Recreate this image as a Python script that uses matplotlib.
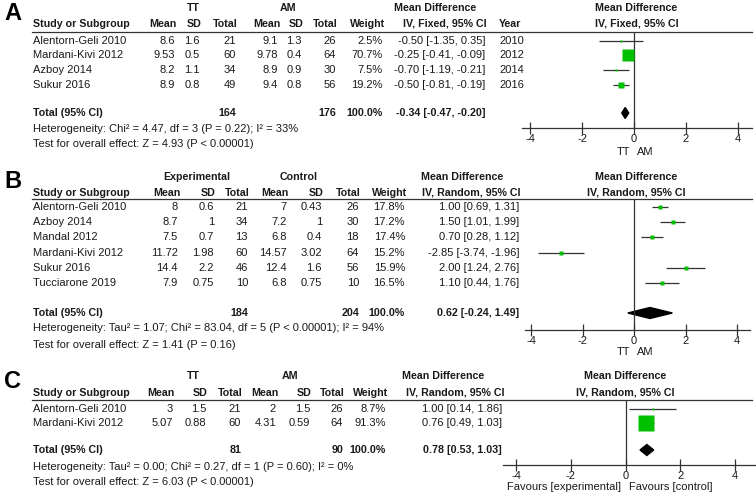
import numpy as np
import matplotlib
matplotlib.use('Agg')
import matplotlib.pyplot as plt
from matplotlib.patches import Polygon

plt.rcParams['font.family'] = ['Liberation Sans', 'DejaVu Sans']
plt.rcParams['axes.unicode_minus'] = False

W, H = 756, 496
GREEN = '#00c000'
INK = '#1a1a1a'
FS = 8
FSB = 7.7

# ---------------- data ----------------
# Panel A: TT vs AM, fixed effect
a_studies = ['Alentorn-Geli 2010', 'Mardani-Kivi 2012', 'Azboy 2014', 'Sukur 2016']
a_m1 = [8.6, 9.53, 8.2, 8.9]
a_sd1 = [1.6, 0.5, 1.1, 0.8]
a_n1 = [21, 60, 34, 49]
a_m2 = [9.1, 9.78, 8.9, 9.4]
a_sd2 = [1.3, 0.4, 0.9, 0.8]
a_n2 = [26, 64, 30, 56]
a_weight = [2.5, 70.7, 7.5, 19.2]
a_md = [-0.50, -0.25, -0.70, -0.50]
a_lo = [-1.35, -0.41, -1.19, -0.81]
a_hi = [0.35, -0.09, -0.21, -0.19]
a_year = [2010, 2012, 2014, 2016]
a_total = (164, 176, -0.34, -0.47, -0.20)
a_het = 'Heterogeneity: Chi² = 4.47, df = 3 (P = 0.22); I² = 33%'
a_test = 'Test for overall effect: Z = 4.93 (P < 0.00001)'

# Panel B: Experimental vs Control, random effects
b_studies = ['Alentorn-Geli 2010', 'Azboy 2014', 'Mandal 2012', 'Mardani-Kivi 2012',
             'Sukur 2016', 'Tucciarone 2019']
b_m1 = [8, 8.7, 7.5, 11.72, 14.4, 7.9]
b_sd1 = [0.6, 1, 0.7, 1.98, 2.2, 0.75]
b_n1 = [21, 34, 13, 60, 46, 10]
b_m2 = [7, 7.2, 6.8, 14.57, 12.4, 6.8]
b_sd2 = [0.43, 1, 0.4, 3.02, 1.6, 0.75]
b_n2 = [26, 30, 18, 64, 56, 10]
b_weight = [17.8, 17.2, 17.4, 15.2, 15.9, 16.5]
b_md = [1.00, 1.50, 0.70, -2.85, 2.00, 1.10]
b_lo = [0.69, 1.01, 0.28, -3.74, 1.24, 0.44]
b_hi = [1.31, 1.99, 1.12, -1.96, 2.76, 1.76]
b_total = (184, 204, 0.62, -0.24, 1.49)
b_het = 'Heterogeneity: Tau² = 1.07; Chi² = 83.04, df = 5 (P < 0.00001); I² = 94%'
b_test = 'Test for overall effect: Z = 1.41 (P = 0.16)'

# Panel C: TT vs AM, random effects
c_studies = ['Alentorn-Geli 2010', 'Mardani-Kivi 2012']
c_m1 = [3, 5.07]
c_sd1 = [1.5, 0.88]
c_n1 = [21, 60]
c_m2 = [2, 4.31]
c_sd2 = [1.5, 0.59]
c_n2 = [26, 64]
c_weight = [8.7, 91.3]
c_md = [1.00, 0.76]
c_lo = [0.14, 0.49]
c_hi = [1.86, 1.03]
c_total = (81, 90, 0.78, 0.53, 1.03)
c_het = 'Heterogeneity: Tau² = 0.00; Chi² = 0.27, df = 1 (P = 0.60); I² = 0%'
c_test = 'Test for overall effect: Z = 6.03 (P < 0.00001)'

ticks = [-4, -2, 0, 2, 4]

fig = plt.figure(figsize=(W / 100, H / 100), dpi=100)
fig.patch.set_facecolor('white')
ov = fig.add_axes([0, 0, 1, 1])
ov.set_xlim(0, W)
ov.set_ylim(H, 0)
ov.axis('off')


def txt(x, y, s, ha='right', bold=False, size=None):
    ov.text(x, y, s, ha=ha, va='center', color=INK,
            fontsize=size or (FSB if bold else FS),
            fontweight='bold' if bold else 'normal')


def panel(letter, groups, studies, m1, sd1, n1, m2, sd2, n2, weight, md, lo, hi,
          total, het, test, method, lay, year=None, fav=('TT', 'AM')):
    y = lay['rows0'] + lay['step'] * np.arange(len(studies))
    cols = lay['cols']  # right edges: mean1, sd1, n1, mean2, sd2, n2, weight, md
    ov.text(4, lay['h1'] + 5, letter, ha='left', va='center', fontsize=17,
            fontweight='bold', color='black')

    # group headers
    txt(lay['g1'], lay['h1'], groups[0], ha='center', bold=True)
    txt(lay['g2'], lay['h1'], groups[1], ha='center', bold=True)
    txt(lay['mdc'], lay['h1'], 'Mean Difference', ha='center', bold=True)
    # column headers
    txt(33, lay['h2'], 'Study or Subgroup', ha='left', bold=True)
    for x, s in zip(cols, ['Mean', 'SD', 'Total', 'Mean', 'SD', 'Total', 'Weight', method]):
        txt(x, lay['h2'], s, bold=True)
    if year is not None:
        txt(lay['year'], lay['h2'], 'Year', ha='left', bold=True)
    ov.plot([32, 752], [lay['line'], lay['line']], color='#333333', lw=0.9)

    # study rows
    for i, name in enumerate(studies):
        vals = [f'{m1[i]:g}', f'{sd1[i]:g}', f'{n1[i]}', f'{m2[i]:g}', f'{sd2[i]:g}',
                f'{n2[i]}', f'{weight[i]:.1f}%',
                f'{md[i]:.2f} [{lo[i]:.2f}, {hi[i]:.2f}]']
        txt(33, y[i], name, ha='left')
        for x, s in zip(cols, vals):
            txt(x - 2, y[i], s)
        if year is not None:
            txt(lay['year'], y[i], str(year[i]), ha='left')

    # total row
    tn1, tn2, tmd, tlo, thi = total
    txt(33, lay['total'], 'Total (95% CI)', ha='left', bold=True)
    txt(cols[2] - 2, lay['total'], str(tn1), bold=True)
    txt(cols[5] - 2, lay['total'], str(tn2), bold=True)
    txt(cols[6] - 2, lay['total'], '100.0%', bold=True)
    txt(cols[7] - 2, lay['total'], f'{tmd:.2f} [{tlo:.2f}, {thi:.2f}]', bold=True)
    txt(33, lay['het'], het, ha='left')
    txt(33, lay['test'], test, ha='left')

    # forest plot
    x0, x1 = lay['ax_x']
    xm4, xp4 = lay['t4']
    unit = (xp4 - xm4) / 8
    zero = (xm4 + xp4) / 2
    ax = fig.add_axes([x0 / W, 1 - lay['axis'] / H, (x1 - x0) / W,
                       (lay['axis'] - lay['line']) / H])
    ax.patch.set_alpha(0)
    ax.set_xlim((x0 - zero) / unit, (x1 - zero) / unit)
    ax.set_ylim(lay['axis'], lay['line'])
    for s in ['left', 'right', 'top']:
        ax.spines[s].set_visible(False)
    ax.spines['bottom'].set_color('#333333')
    ax.spines['bottom'].set_linewidth(0.9)
    ax.set_yticks([])
    ax.set_xticks(ticks)
    ax.set_xticklabels([str(t) for t in ticks])
    ax.tick_params(axis='x', direction='inout', length=8, width=0.9, color='#333333',
                   labelsize=FS, pad=0, labelcolor=INK)
    ax.axvline(0, color='#333333', lw=0.9)

    ax.hlines(y, lo, hi, color='#333333', lw=0.9)
    side = np.maximum(0.64 * np.array(weight) ** 0.7, 2.0) * 0.72
    for xi, yi, si in zip(md, y, side):
        ax.plot(xi, yi, 's', ms=si, color=GREEN, mec='none', clip_on=False)
    dh = 5.5
    yt = lay['total']
    ax.add_patch(Polygon([(tlo, yt), (tmd, yt - dh), (thi, yt), (tmd, yt + dh)],
                         closed=True, color='black', clip_on=False))

    ax.text(lay['fc'], lay['h1'], 'Mean Difference', ha='center', va='center',
            fontsize=FSB, fontweight='bold', color=INK)
    ax.text(lay['fc'], lay['h2'], method, ha='center', va='center',
            fontsize=FSB, fontweight='bold', color=INK)
    ax.text(-0.15, lay['fav'], fav[0], ha='right', va='center', fontsize=FS, color=INK)
    ax.text(0.12, lay['fav'], fav[1], ha='left', va='center', fontsize=FS, color=INK)


panel('A', ('TT', 'AM'), a_studies, a_m1, a_sd1, a_n1, a_m2, a_sd2, a_n2, a_weight,
      a_md, a_lo, a_hi, a_total, a_het, a_test, 'IV, Fixed, 95% CI',
      dict(h1=8, h2=24, line=32, rows0=40.5, step=14.7, total=113, het=129, test=144,
           axis=128, fav=152, g1=193, g2=288, mdc=435,
           cols=[177, 202, 238, 280, 304, 338, 385, 487], year=499,
           ax_x=(522, 752), t4=(530, 738), fc=0.1),
      year=a_year)

panel('B', ('Experimental', 'Control'), b_studies, b_m1, b_sd1, b_n1, b_m2, b_sd2, b_n2,
      b_weight, b_md, b_lo, b_hi, b_total, b_het, b_test, 'IV, Random, 95% CI',
      dict(h1=177, h2=192.5, line=199, rows0=207, step=15.2, total=313, het=328, test=345,
           axis=330, fav=352, g1=197, g2=299, mdc=462,
           cols=[180, 216, 250, 289, 324, 361, 407, 521],
           ax_x=(525, 750), t4=(531, 737), fc=0.1))

panel('C', ('TT', 'AM'), c_studies, c_m1, c_sd1, c_n1, c_m2, c_sd2, c_n2, c_weight,
      c_md, c_lo, c_hi, c_total, c_het, c_test, 'IV, Random, 95% CI',
      dict(h1=376, h2=392.5, line=400, rows0=408.5, step=14.5, total=450, het=467, test=482,
           axis=465, fav=487, g1=193, g2=290, mdc=443,
           cols=[175, 208, 243, 278, 312, 345, 388, 504],
           ax_x=(503, 755), t4=(516, 735), fc=0.0),
      fav=('Favours [experimental]', 'Favours [control]'))

fig.savefig('out.png', dpi=100)
